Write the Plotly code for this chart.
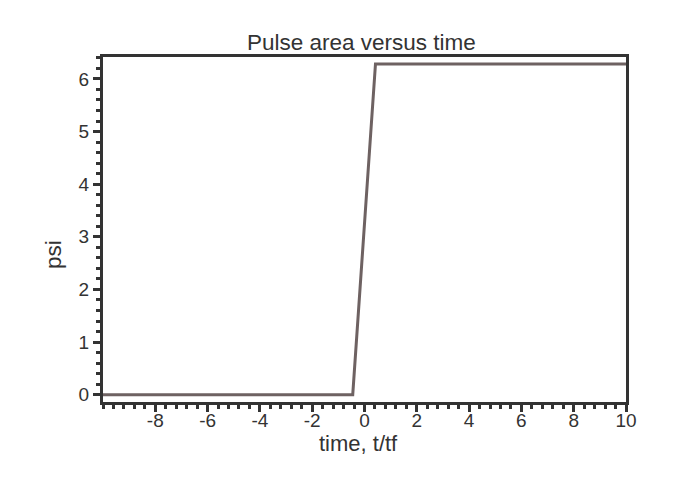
import plotly.graph_objects as go
import math

# data
time_vals = [-10, -0.45, 0.42, 10]
psi_vals = [0, 0, 2 * math.pi, 2 * math.pi]
x_ticks = [-8, -6, -4, -2, 0, 2, 4, 6, 8, 10]
y_ticks = [0, 1, 2, 3, 4, 5, 6]

FONT = "Liberation Sans, Arial, Helvetica, sans-serif"
AX = "#333333"
TXT = "#333333"

fig = go.Figure()
fig.add_trace(go.Scatter(x=time_vals, y=psi_vals, mode="lines",
                         line=dict(color="#6e6262", width=3),
                         showlegend=False, hoverinfo="skip"))

fig.update_layout(
    width=665, height=479,
    margin=dict(l=95, r=47, t=49, b=85),
    paper_bgcolor="white", plot_bgcolor="white",
    font=dict(family=FONT, size=19, color=TXT),
    annotations=[
        dict(text="Pulse area versus time", xref="paper", yref="paper",
             x=0.495, y=1.043, xanchor="center", yanchor="middle",
             showarrow=False, font=dict(size=22.5, color=TXT)),
        dict(text="time, t/tf", xref="paper", yref="paper",
             x=0.489, y=-0.121, xanchor="center", yanchor="middle",
             showarrow=False, font=dict(size=22, color=TXT)),
        dict(text="psi", xref="paper", yref="paper", textangle=-90,
             x=-0.0955, y=0.426, xanchor="center", yanchor="middle",
             showarrow=False, font=dict(size=22.5, color=TXT)),
    ],
)
fig.update_xaxes(
    range=[-10, 10], tickvals=x_ticks, ticktext=[str(v) for v in x_ticks],
    showgrid=False, zeroline=False,
    showline=True, linecolor=AX, linewidth=3, mirror=True,
    ticks="outside", ticklen=7, tickwidth=3, tickcolor=AX,
    ticklabelstandoff=-8,
    minor=dict(dtick=0.4, tick0=0, ticks="outside", ticklen=4, tickwidth=3, tickcolor=AX),
)
fig.update_yaxes(
    range=[-0.139, 6.416], tickvals=y_ticks, ticktext=[str(v) for v in y_ticks],
    showgrid=False, zeroline=False,
    showline=True, linecolor=AX, linewidth=3, mirror=True,
    ticks="outside", ticklen=7, tickwidth=3, tickcolor=AX,
    minor=dict(dtick=0.2, tick0=0, ticks="outside", ticklen=4, tickwidth=3, tickcolor=AX),
)
fig.write_html("out.html")
